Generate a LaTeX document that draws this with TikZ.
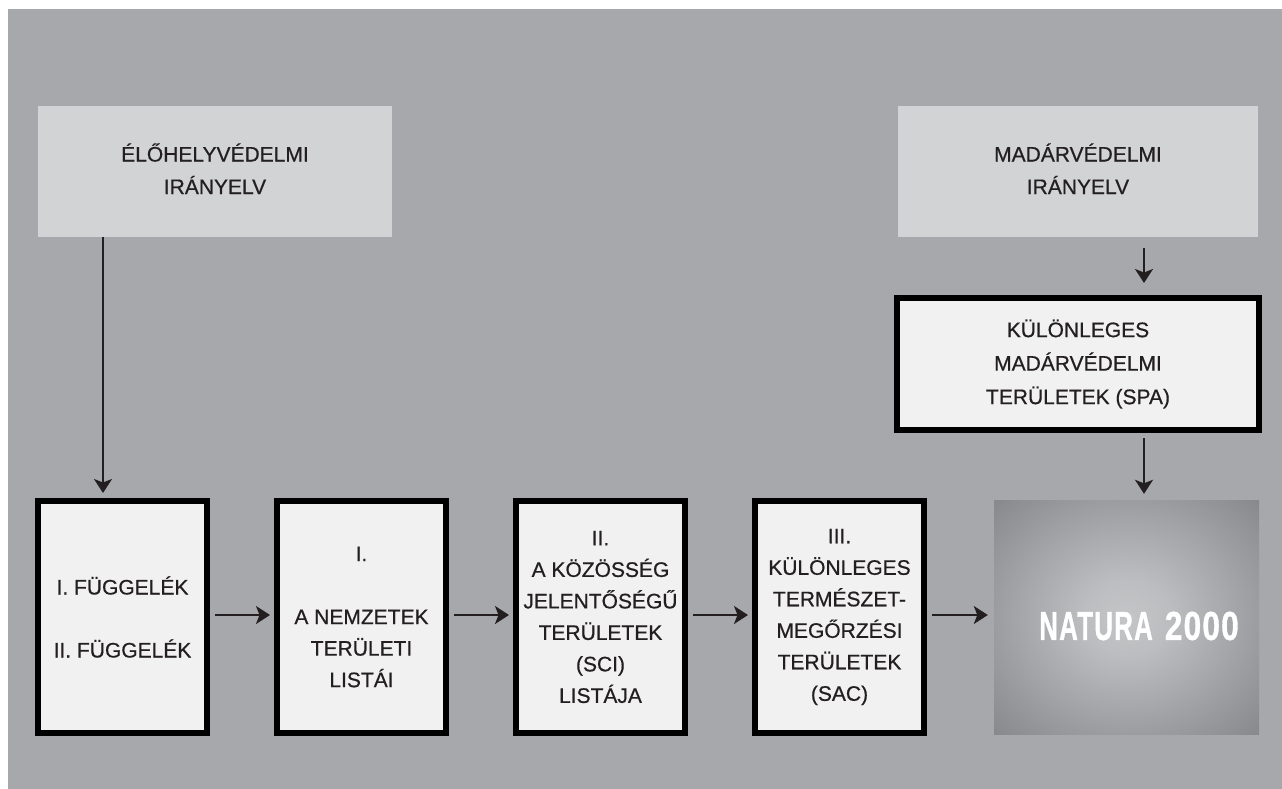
\documentclass[tikz,border=0pt]{standalone}
\usepackage{fontspec}
\setmainfont{Liberation Sans}
\newfontfamily\boxfont{Liberation Sans}[FakeBold=0.6]
\newfontfamily\natfont{Liberation Sans}[FakeStretch=0.64, LetterSpace=3, FakeBold=0.8]
\newfontfamily\natfontb{Liberation Sans}[FakeStretch=0.78, LetterSpace=3, FakeBold=0.8]
\usetikzlibrary{arrows.meta}
\definecolor{bggray}{HTML}{A7A8AB}
\definecolor{lightbox}{HTML}{D2D3D5}
\definecolor{boxfill}{HTML}{F1F1F2}
\definecolor{txt}{HTML}{231F20}
\definecolor{natin}{HTML}{C4C5C7}
\definecolor{natout}{HTML}{77787C}
\pgfdeclareradialshading{natshade}{\pgfpoint{0bp}{0bp}}{color(0bp)=(natin); color(8bp)=(natin!90!natout); color(44bp)=(natout); color(80bp)=(natout)}
\tikzset{
  basefont/.style={font=\boxfont\fontsize{21}{31.5}\selectfont, text=txt, align=center},
  dirbox/.style={basefont, fill=lightbox, draw=none, minimum width=354pt, minimum height=131pt, inner sep=0pt},
  stepbox/.style={basefont, fill=boxfill, draw=black, line width=6pt, minimum width=169pt, minimum height=232pt, inner sep=0pt},
  spabox/.style={basefont, fill=boxfill, draw=black, line width=6pt, minimum width=362pt, minimum height=132pt, inner sep=0pt},
  arr/.style={draw=txt, line width=1.8pt, -{Stealth[length=14pt, width=18pt, inset=3.5pt]}},
}
\begin{document}
\begin{tikzpicture}[x=1pt, y=-1pt]
\useasboundingbox (0,0) rectangle (1282,789);
\fill[white] (0,0) rectangle (1282,789);
\fill[bggray] (8,9) rectangle (1282,789);

% directive boxes
\node[dirbox] (elo) at (215,171.5) {\raisebox{-7pt}{\begin{tabular}{@{}c@{}}ÉLŐHELYVÉDELMI\\[1pt]IRÁNYELV\end{tabular}}};
\node[dirbox, minimum width=360pt] (mad) at (1078,171.5) {\raisebox{-7pt}{\begin{tabular}{@{}c@{}}MADÁRVÉDELMI\\[1pt]IRÁNYELV\end{tabular}}};

% step boxes
\node[stepbox] (b1) at (122.5,617) {I. FÜGGELÉK\\[31.5pt]II. FÜGGELÉK};
\node[stepbox] (b2) at (361.5,617) {I.\\[31.5pt]A NEMZETEK\\TERÜLETI\\LISTÁI};
\node[stepbox] (b3) at (600.5,617) {II.\\A KÖZÖSSÉG\\JELENTŐSÉGŰ\\TERÜLETEK\\(SCI)\\LISTÁJA};
\node[stepbox] (b4) at (839.5,617) {III.\\KÜLÖNLEGES\\TERMÉSZET-\\MEGŐRZÉSI\\TERÜLETEK\\(SAC)};
\node[spabox] (spa) at (1078,364) {KÜLÖNLEGES\\[2pt]MADÁRVÉDELMI\\[2pt]TERÜLETEK (SPA)};

% Natura 2000
\node[shading=natshade, minimum width=265pt, minimum height=234pt, inner sep=0pt] (nat) at (1126.5,617) {};
\node[text=white, font=\bfseries\fontsize{40.5}{40.5}\selectfont, anchor=center] (natt) at (1139,626) {{\natfont\bfseries NATURA}\hspace{12pt}{\natfontb\bfseries 2000}};

% connectors
\coordinate (c1) at (103,237);
\draw[arr, shorten >=5pt] (c1) -- (c1 |- b1.north);
\draw[arr, shorten <=5pt, shorten >=4pt] ([yshift=2pt]b1.east) -- ([yshift=2pt]b2.west);
\draw[arr, shorten <=5pt, shorten >=4pt] ([yshift=2pt]b2.east) -- ([yshift=2pt]b3.west);
\draw[arr, shorten <=5pt, shorten >=4pt] ([yshift=2pt]b3.east) -- ([yshift=2pt]b4.west);
\draw[arr, shorten <=5pt, shorten >=6pt] ([yshift=2pt]b4.east) -- ([yshift=2pt]nat.west);
\coordinate (c2) at (1144,237);
\draw[arr, shorten <=11pt, shorten >=12pt] (c2) -- (c2 |- spa.north);
\coordinate (c3) at (1144,433);
\draw[arr, shorten <=5pt, shorten >=6pt] (c3) -- (c3 |- nat.north);
\end{tikzpicture}
\end{document}
